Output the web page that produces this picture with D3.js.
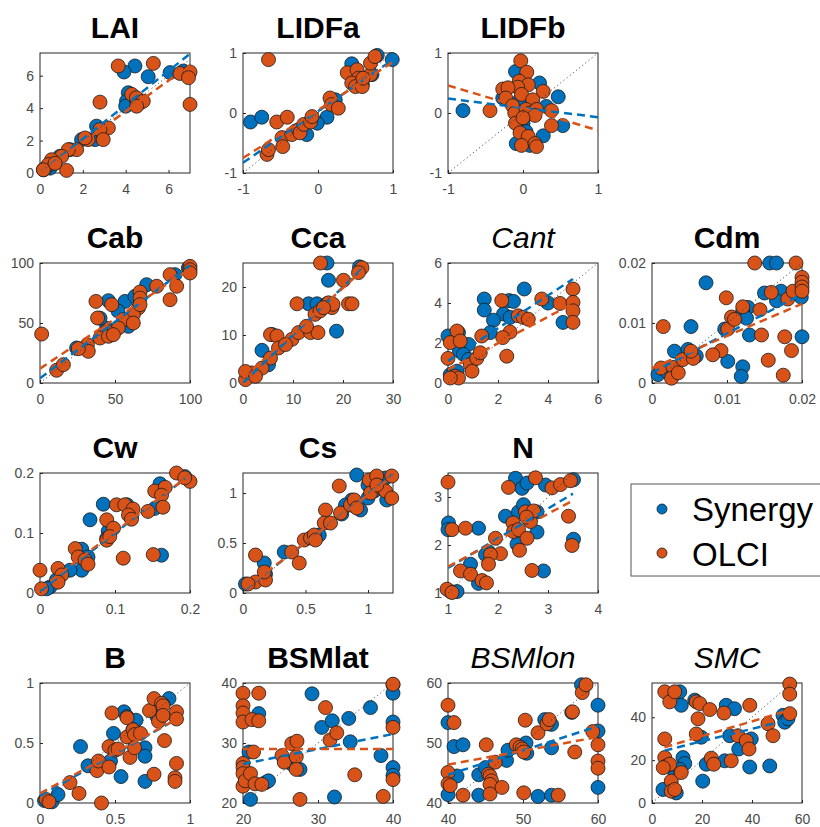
<!DOCTYPE html>
<html>
<head>
<meta charset="utf-8">
<style>
    body { margin: 0; background: #fff; }
    .tick-label { font-family: Arial, "Liberation Sans", sans-serif; font-size: 14px; fill: #4a4a4a; }
    .title { font-family: Arial, "Liberation Sans", sans-serif; font-size: 30px; fill: #000; }
    .legend-text { font-family: Arial, "Liberation Sans", sans-serif; font-size: 33px; fill: #000; }
</style>
<script src="https://d3js.org/d3.v7.min.js"></script>
</head>
<body>
<script>
// ---- data: [true, retrieved] pairs per variable ----
const laiSyn = [[4.43,6.6],[3.92,6.23],[5.05,5.94],[6.07,6.19],[6.69,6.29],[6.9,6.08],[4.12,4.95],[4.04,4.43],[4.0,4.12],[4.5,4.5],[2.64,2.89],[2.57,2.06],[1.94,2.06],[0.16,0.2],[0.47,0.5],[0.7,0.62],[0.47,0.3],[0.93,1.03],[1.4,1.44],[0.3,0.35],[2.9,2.5]];
const laiOlci = [[3.65,6.6],[5.29,6.76],[2.8,4.37],[4.28,4.85],[4.5,4.64],[4.67,4.33],[4.82,4.43],[4.51,4.12],[6.53,6.14],[7.0,6.23],[6.93,5.88],[7.0,4.23],[3.19,2.78],[2.8,2.68],[2.95,2.06],[2.25,2.06],[2.1,2.16],[1.71,1.44],[1.32,1.44],[1.01,1.03],[1.24,0.16],[0.54,0.82],[0.39,0.52],[0.16,0.2],[0.7,0.6]];

const lidfaSyn = [[-0.9,-0.15],[-0.75,-0.07],[0.99,0.89],[0.79,0.96],[0.45,0.82],[0.72,0.64],[0.12,-0.07],[0.23,0.22],[-0.01,-0.17],[-0.15,-0.36],[0.59,0.48],[-0.3,-0.3]];
const lidfaOlci = [[-0.66,0.89],[-0.55,-0.15],[-0.41,-0.07],[-0.68,-0.69],[-0.66,-0.61],[-0.48,-0.41],[-0.47,-0.56],[-0.35,-0.36],[-0.26,-0.28],[-0.24,-0.33],[-0.19,-0.19],[-0.1,-0.15],[-0.08,-0.06],[0.16,0.25],[0.18,0.14],[0.27,0.08],[0.39,0.67],[0.52,0.72],[0.54,0.58],[0.45,0.5],[0.5,0.44],[0.59,0.44],[0.7,0.64],[0.7,0.83],[0.76,0.94],[0.6,0.58]];

const lidfbSyn = [[-0.8,0.04],[-0.1,0.69],[0.22,0.5],[0.47,0.27],[0.53,-0.21],[0.27,-0.38],[-0.09,-0.51],[0.09,-0.54],[-0.27,0.25],[-0.04,0.22],[0.31,0.11],[0,-0.17],[0.04,-0.31]];
const lidfbOlci = [[-0.44,0.04],[-0.03,0.87],[0.05,0.68],[-0.05,0.53],[0.07,0.47],[-0.07,0.43],[-0.27,0.4],[-0.2,0.42],[-0.23,0.25],[0.27,0.36],[-0.02,0.31],[0.13,0.22],[-0.14,0.12],[-0.11,0],[0.04,0.06],[0.09,0],[0.18,0.06],[0.16,-0.04],[0.38,0.04],[0.38,-0.21],[-0.1,-0.17],[-0.04,-0.33],[0.07,-0.39],[-0.02,-0.54],[0.16,-0.51],[0.18,-0.56],[0,-0.08]];

const cabSyn = [[45.6,68.6],[56.7,68],[58.9,47.2],[63.3,72.2],[71.1,81.9],[90,90.3],[98.9,95.8],[44.4,45.6],[24.4,29.2],[40,54],[52,60]];
const cabOlci = [[1.1,40.8],[37.3,68],[38.4,54.2],[47.8,65.3],[65.6,62.5],[62.2,56.9],[55.6,52.8],[52.2,45.8],[44.4,43],[40,37.5],[45.6,38.9],[48.9,40.3],[31.6,31.9],[32.2,26.4],[25.6,28.6],[11.1,10.6],[15.6,15.3],[66.7,75.8],[66.7,70.8],[66.7,65.3],[77.8,80.6],[86.7,90.3],[86.7,69.4],[91.1,80.6],[100,97.2],[100,94.4],[100,91.7],[62.2,50]];

const ccaSyn = [[16.8,25],[17.1,21.4],[18.7,10.8],[23.3,24.2],[13.1,16.5],[14.8,16.5],[16.8,16.5],[5.8,10.1],[3.8,6.8],[17.8,16.4],[1.8,1.7],[5.1,3.8]];
const ccaOlci = [[15.5,25],[20.1,21.4],[21.1,16.5],[21.8,16.5],[23.8,24],[23.1,23],[10.8,16.5],[5.5,10.1],[6.8,9.8],[7.1,7.3],[5.5,5.2],[9.8,9.1],[8.5,8],[11.1,10.5],[13.5,10.5],[15,10.5],[12.7,11.8],[14.4,14.3],[15.4,15],[17.1,16.7],[17.8,15.7],[18,16.4],[16.1,15.7],[3.8,3.1],[1.8,2.1],[0.5,0.7],[0.5,2.4],[2.5,1.4]];

const cantSyn = [[0,2.35],[1.45,4.2],[1.45,3.65],[3.05,4.7],[2.44,4.12],[2.62,4.08],[2.22,3.45],[2.48,3.28],[1.82,3.14],[1.69,2.52],[0.42,2.52],[0.82,1.93],[0.46,1.6],[0.62,1.43],[0.82,1.18],[4.0,4.0],[4.6,3.03],[0.09,0.42],[0.23,0.5],[0.36,0.59]];
const cantOlci = [[0,1.23],[0.36,2.6],[0.09,2.02],[0.49,2.1],[0.89,0.92],[0.96,0.59],[1.15,1.23],[1.29,1.51],[1.35,2.35],[2.15,4.12],[2.35,1.34],[2.48,2.55],[2.19,2.27],[2.81,3.36],[3.01,3.28],[3.21,3.19],[3.75,4.2],[4.48,3.98],[5,4.7],[5,4.03],[5,3.61],[5,3.03],[0.29,0.34],[0.42,0.25],[0.09,0.25]];

const cdmSyn = [[0.0157,0.02],[0.0166,0.02],[0.0072,0.0167],[0.0052,0.0094],[0.015,0.015],[0.0172,0.0153],[0.0166,0.0137],[0.0199,0.0143],[0.0128,0.0126],[0.0121,0.012],[0.0126,0.0108],[0.0097,0.009],[0.0101,0.0036],[0.0121,0.0027],[0.0119,0.0011],[0.013,0.008],[0.02,0.0077],[0.003,0.0053],[0.0048,0.0056],[0.0059,0.0045],[0.0008,0.0014],[0.0019,0.002]];
const cdmOlci = [[0.0137,0.02],[0.0192,0.02],[0.0099,0.0142],[0.0015,0.0094],[0.0101,0.009],[0.0106,0.011],[0.011,0.0106],[0.0121,0.0127],[0.0144,0.0122],[0.0159,0.0151],[0.0181,0.014],[0.0188,0.0153],[0.02,0.0176],[0.02,0.0168],[0.02,0.016],[0.02,0.0153],[0.0146,0.008],[0.0177,0.0077],[0.0186,0.0054],[0.0155,0.0038],[0.0175,0.0013],[0.0092,0.0054],[0.0081,0.0047],[0.0012,0.0025],[0.0028,0.0026],[0.0026,0.0008],[0.0035,0.0017],[0.0041,0.0039],[0.0055,0.0041],[0.0052,0.0053]];

const cwSyn = [[0.0844,0.148],[0.0667,0.122],[0.091,0.103],[0.0889,0.091],[0.16,0.182],[0.153,0.141],[0.162,0.063],[0.193,0.194],[0.0556,0.073],[0.0556,0.038],[0.04,0.038],[0.064,0.06],[0.0133,0.01],[0.022,0.022],[0.116,0.147],[0.122,0.128],[0.009,0.007]];
const cwOlci = [[0,0.038],[0.002,0.007],[0.024,0.041],[0.029,0.03],[0.024,0.018],[0.047,0.074],[0.051,0.06],[0.06,0.055],[0.064,0.048],[0.089,0.122],[0.098,0.108],[0.089,0.088],[0.093,0.094],[0.102,0.147],[0.113,0.147],[0.124,0.14],[0.118,0.13],[0.122,0.123],[0.111,0.058],[0.144,0.136],[0.153,0.17],[0.167,0.176],[0.162,0.163],[0.164,0.143],[0.151,0.064],[0.182,0.2],[0.2,0.186],[0.193,0.192]];

const csSyn = [[0.91,1.18],[1.0,0.95],[1.0,1.08],[1.14,1.15],[1.15,0.93],[0.94,0.83],[0.87,0.93],[0.82,0.88],[0.61,0.58],[0.33,0.41],[0.17,0.3],[0.18,0.19],[0.02,0.09],[0.79,0.79],[1.05,1.02]];
const csOlci = [[0.1,0.38],[0.1,0.11],[0.18,0.13],[0.17,0.21],[0.39,0.41],[0.45,0.3],[0.49,0.53],[0.54,0.55],[0.57,0.58],[0.58,0.53],[0.66,0.83],[0.65,0.7],[0.7,0.7],[0.77,1.07],[0.78,0.8],[0.86,0.88],[0.89,0.93],[0.91,0.85],[1.01,1.13],[1.02,1.0],[1.07,1.17],[1.09,1.07],[1.11,1.05],[1.14,1.02],[1.19,1.17],[1.19,0.95],[0.04,0.09],[1.07,1.08]];

const nSyn = [[2.35,3.39],[2.48,3.18],[2.58,3.29],[2.95,3.25],[3.51,3.36],[1.01,2.46],[1.0,2.32],[1.61,2.35],[2.15,2.6],[2.41,2.69],[2.78,2.69],[2.78,2.27],[2.38,2.02],[3.51,2.12],[2.91,1.46],[1.81,1.86],[1.75,1.8],[1.45,1.6],[1.61,1.2],[1.05,1.03],[1.18,1.03],[2.51,2.84]];
const nOlci = [[1.0,3.31],[2.21,3.2],[2.75,3.4],[3.08,3.19],[3.25,3.26],[3.45,3.34],[1.08,2.32],[1.35,2.35],[2.3,2.46],[2.31,2.28],[2.41,2.32],[2.58,2.14],[2.65,2.49],[2.55,2.69],[2.71,2.71],[2.57,2.58],[2.43,1.89],[3.41,2.6],[3.48,1.99],[2.68,1.47],[1.95,2.14],[2.05,1.82],[1.85,1.8],[1.81,1.6],[1.25,1.46],[1.45,1.39],[1.68,1.26],[1.77,1.21],[0.98,1.08],[1.08,1.01]];

const bSyn = [[0.27,0.47],[0.03,0.02],[0.08,0.01],[0.12,0.07],[0.56,0.76],[0.58,0.72],[0.49,0.58],[0.64,0.69],[0.6,0.55],[0.54,0.22],[0.7,0.46],[0.7,0.39],[0.7,0.18],[0.86,0.87],[0.78,0.72],[0.82,0.82],[0.32,0.31],[0.47,0.35],[0.62,0.61]];
const bOlci = [[0.04,0.03],[0.06,0.01],[0.2,0.17],[0.26,0.08],[0.41,0],[0.38,0.27],[0.39,0.35],[0.46,0.3],[0.46,0.47],[0.48,0.75],[0.5,0.44],[0.52,0.45],[0.58,0.55],[0.58,0.71],[0.6,0.38],[0.62,0.61],[0.63,0.57],[0.63,0.46],[0.67,0.58],[0.73,0.77],[0.76,0.87],[0.76,0.24],[0.79,0.68],[0.81,0.83],[0.82,0.81],[0.82,0.73],[0.83,0.52],[0.91,0.76],[0.91,0.7],[0.91,0.33],[0.9,0.21],[0.9,0.18]];

const latSyn = [[21,20.6],[22.1,34.9],[20.8,28.5],[23,23.4],[23.4,23.7],[29.2,38.2],[30.5,32.6],[31.9,33.7],[32.2,21],[34.1,34.1],[34.3,30.2],[37,35.9],[38.4,27.9],[40,39.7],[40,38.3],[40,33.5],[40,25.9],[40,24.6],[26.5,26.5],[27.6,25.6]];
const latOlci = [[20,38.3],[20,36.2],[20,35],[20,33.5],[21.2,33.9],[22.1,38.3],[22.1,33.7],[20,26.6],[20,25.9],[20,24.9],[20,22.8],[20.3,23.7],[21,24.9],[21.6,23.2],[22.5,23.1],[21.4,28.5],[25.2,27.9],[25.5,26.8],[26.5,29.9],[27.2,30.3],[27.1,27.7],[27.1,25.6],[27.6,20.6],[31,35.9],[31.6,30.5],[32.5,31.7],[34.9,24.7],[38.7,21.1],[40,39.8],[40,32.6],[40,23.9]];

const lonSyn = [[40,53.4],[40.8,49.4],[42,49.7],[41.2,44.5],[40,41.4],[44.1,44.7],[45,45.9],[44.1,41.3],[47.8,47.1],[48,48.8],[50.4,50],[50.5,48.3],[52,41.1],[53.8,41.3],[53.8,49.2],[52.9,53.9],[53.8,53.1],[56.5,55.1],[57.8,59.7],[60,56.3],[60,52],[60,42.6]];
const lonOlci = [[40,56.3],[40.8,53.4],[40,45.1],[40,43.2],[40.3,42.9],[42,41.3],[45.1,49.7],[45.4,44.8],[45.6,44.5],[45.8,43.7],[45.6,43.1],[45.6,41.5],[46.3,46.8],[47.2,42.6],[49.1,49.7],[49.6,49.3],[49.9,49],[50.1,48.5],[50.1,41.7],[50.3,53.8],[52,51.7],[53.2,53.2],[53.5,53.9],[54.7,41.3],[56.6,55.2],[56.9,48.5],[57.9,58.4],[58.4,59.7],[59.3,51.9],[60,49.7],[60,47],[60,45.8]];

const smcSyn = [[11.1,51.9],[11.7,45.6],[17.1,48],[19.7,30.7],[20.3,10.2],[29.7,45.6],[33,44],[31.1,31.4],[29.1,19.7],[34.7,25.2],[39.7,29.9],[39.1,16.8],[47.1,17.3],[52.4,40.9],[53.1,37.7],[54.4,39.3],[4.4,6.3],[9.7,4.7],[9.1,14.2],[12.4,21.2],[13.1,18.4],[11.1,15.7],[21.7,18.1]];
const smcOlci = [[5.1,51.9],[7.1,47.2],[9.1,51.9],[5.1,29.9],[5.1,21.2],[5.7,17.3],[7.1,18.1],[7.7,10.2],[7.7,5.5],[9.1,6.3],[11.7,14.2],[17.7,47.2],[19.1,46.4],[18.4,39.3],[17.7,32.2],[23.1,43.6],[23.7,20.9],[24.7,18.1],[28.8,42],[31.7,19.7],[34.4,31.4],[37.7,29.1],[38.8,25.2],[39.1,45.6],[46.4,37],[48.4,31.4],[55.1,55.5],[55.1,50.8],[55.1,41.7],[4.5,16.5]];

// ---- per-panel settings ----
const titles = ["LAI", "LIDFa", "LIDFb", "Cab", "Cca", "Cant", "Cdm", "Cw", "Cs", "N", "B", "BSMlat", "BSMlon", "SMC"];
const italicTitles = ["Cant", "BSMlon", "SMC"];
const synData = [laiSyn, lidfaSyn, lidfbSyn, cabSyn, ccaSyn, cantSyn, cdmSyn, cwSyn, csSyn, nSyn, bSyn, latSyn, lonSyn, smcSyn];
const olciData = [laiOlci, lidfaOlci, lidfbOlci, cabOlci, ccaOlci, cantOlci, cdmOlci, cwOlci, csOlci, nOlci, bOlci, latOlci, lonOlci, smcOlci];
const xDomains = [[0,7],[-1,1],[-1,1],[0,100],[0,30],[0,6],[0,0.02],[0,0.2],[0,1.2],[1,4],[0,1],[20,40],[40,60],[0,60]];
const yDomains = [[0,7.4],[-1,1],[-1,1],[0,100],[0,25],[0,6],[0,0.02],[0,0.2],[0,1.2],[1,3.5],[0,1],[20,40],[40,60],[0,56]];
const xTicks = [[0,2,4,6],[-1,0,1],[-1,0,1],[0,50,100],[0,10,20,30],[0,2,4,6],[0,0.01,0.02],[0,0.1,0.2],[0,0.5,1],[1,2,3,4],[0,0.5,1],[20,30,40],[40,50,60],[0,20,40,60]];
const yTicks = [[0,2,4,6],[-1,0,1],[-1,0,1],[0,50,100],[0,10,20],[0,2,4,6],[0,0.01,0.02],[0,0.1,0.2],[0,0.5,1],[1,2,3],[0,0.5,1],[20,30,40],[40,50,60],[0,20,40]];
// fitted lines: [slope, intercept]
const synFit = [[1.05,0],[0.86,0.03],[-0.155,0.085],[0.94,4],[1.0,0],[0.82,1.1],[0.655,0.0017],[0.97,0.003],[0.97,0.02],[0.62,0.9],[0.7,0.06],[0.25,21.5],[0.405,28.5],[0.29,23]];
const olciFit = [[0.95,0],[0.8,0.05],[-0.375,0.085],[0.83,12],[0.94,1],[0.66,0.67],[0.535,0.0025],[0.95,0.007],[0.95,0.03],[0.55,1.0],[0.68,0.08],[0,29],[0.23,37.2],[0.345,24.3]];
// x extent of the fitted lines
const fitRange = [[0,7],[-1,1],[-1,1],[0,100],[0,24],[0,5],[0,0.02],[0,0.2],[0.02,1.2],[1,3.5],[0,0.9],[20,40],[40,60],[5,55]];
const seriesNames = ["Synergy", "OLCI"];

// ---- layout ----
const colors = ["#0072BD", "#D95319"];
const colX = [40, 243, 448, 652];
const rowY = [53, 263, 473, 683];
const pw = 150, ph = 120;
const cells = [[0,0],[0,1],[0,2],[1,0],[1,1],[1,2],[1,3],[2,0],[2,1],[2,2],[3,0],[3,1],[3,2],[3,3]];

const svg = d3.select("body").append("svg")
    .attr("width", 820)
    .attr("height", 827);

const fmt = (v) => String(+v.toFixed(4));

titles.forEach((title, i) => {
    const [r, c] = cells[i];
    const g = svg.append("g").attr("transform", "translate(" + colX[c] + "," + rowY[r] + ")");
    const x = d3.scaleLinear().domain(xDomains[i]).range([0, pw]);
    const y = d3.scaleLinear().domain(yDomains[i]).range([ph, 0]);

    const clipId = "clip" + i;
    g.append("clipPath").attr("id", clipId)
        .append("rect").attr("width", pw).attr("height", ph);

    // axes with small inner ticks
    const xAxis = d3.axisBottom(x).tickValues(xTicks[i]).tickSize(-3).tickPadding(8).tickFormat(fmt);
    const yAxis = d3.axisLeft(y).tickValues(yTicks[i]).tickSize(-3).tickPadding(6).tickFormat(fmt);
    const gx = g.append("g").attr("transform", "translate(0," + ph + ")").call(xAxis);
    const gy = g.append("g").call(yAxis);
    [gx, gy].forEach((a) => {
        a.select(".domain").remove();
        a.selectAll(".tick line").attr("stroke", "#262626");
        a.selectAll(".tick text").attr("class", "tick-label").attr("fill", null);
    });
    gx.selectAll(".tick text").attr("dy", "0.95em");

    g.append("rect")
        .attr("width", pw).attr("height", ph)
        .attr("fill", "none").attr("stroke", "#262626").attr("stroke-width", 1);

    // scatter, Synergy first so OLCI sits on top
    [synData[i], olciData[i]].forEach((pts, s) => {
        g.append("g").selectAll("circle")
            .data(pts)
            .enter()
            .append("circle")
            .attr("cx", (d) => x(d[0]))
            .attr("cy", (d) => y(d[1]))
            .attr("r", 7)
            .attr("fill", colors[s])
            .attr("stroke", "#1a1a1a")
            .attr("stroke-width", 0.8);
    });

    // 1:1 line
    const lo = Math.max(xDomains[i][0], yDomains[i][0]);
    const hi = Math.min(xDomains[i][1], yDomains[i][1]);
    g.append("line")
        .attr("clip-path", "url(#" + clipId + ")")
        .attr("x1", x(lo)).attr("y1", y(lo))
        .attr("x2", x(hi)).attr("y2", y(hi))
        .attr("stroke", "#333").attr("stroke-width", 1)
        .attr("stroke-dasharray", "1,3");

    // fitted lines
    [synFit[i], olciFit[i]].forEach((f, s) => {
        const [a, b] = f;
        const [x0, x1] = fitRange[i];
        g.append("line")
            .attr("clip-path", "url(#" + clipId + ")")
            .attr("x1", x(x0)).attr("y1", y(a * x0 + b))
            .attr("x2", x(x1)).attr("y2", y(a * x1 + b))
            .attr("stroke", colors[s]).attr("stroke-width", 2.5)
            .attr("stroke-dasharray", "8,5");
    });

    const italic = italicTitles.includes(title);
    svg.append("text")
        .attr("class", "title")
        .attr("x", colX[c] + pw / 2)
        .attr("y", rowY[r] - 15)
        .attr("text-anchor", "middle")
        .attr("font-weight", italic ? "normal" : "bold")
        .attr("font-style", italic ? "italic" : "normal")
        .text(title);
});

// legend
const lg = svg.append("g").attr("transform", "translate(631,484)");
lg.append("rect")
    .attr("width", 200).attr("height", 92)
    .attr("fill", "#fff").attr("stroke", "#555").attr("stroke-width", 1);
seriesNames.forEach((name, s) => {
    lg.append("circle")
        .attr("cx", 31).attr("cy", 25 + s * 44)
        .attr("r", 5)
        .attr("fill", colors[s])
        .attr("stroke", "#1a1a1a").attr("stroke-width", 0.8);
    lg.append("text")
        .attr("class", "legend-text")
        .attr("x", 61).attr("y", 37 + s * 45)
        .text(name);
});
</script>
</body>
</html>
